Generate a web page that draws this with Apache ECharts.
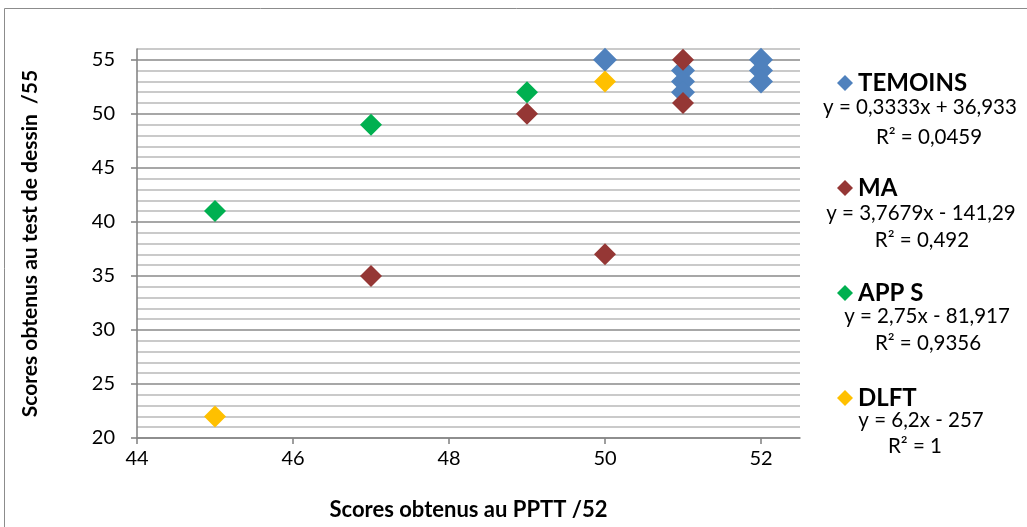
<!DOCTYPE html>
<html>
<head>
<meta charset="utf-8">
<script src="https://cdn.jsdelivr.net/npm/echarts@6/dist/echarts.min.js"></script>
<style>
html,body{margin:0;padding:0;background:#fff;}
#c{width:1027px;height:527px;}
</style>
</head>
<body>
<div id="c"></div>
<script>
const seriesNames = ['TEMOINS', 'MA', 'APP S', 'DLFT'];
const temoins = [[50,55],[51,54],[51,53],[51,52],[52,55],[52,54],[52,53]];
const ma = [[47,35],[49,50],[50,37],[51,55],[51,51]];
const apps = [[45,41],[47,49],[49,52]];
const dlft = [[45,22],[50,53]];
const equations = ['y = 0,3333x + 36,933', 'y = 3,7679x - 141,29', 'y = 2,75x - 81,917', 'y = 6,2x - 257'];
const r2 = ['R² = 0,0459', 'R² = 0,492', 'R² = 0,9356', 'R² = 1'];
const xTicks = [44,46,48,50,52];
const yTicks = [20,25,30,35,40,45,50,55];

const colors = ['#4f81bd', '#953735', '#00b050', '#ffc000'];
const font = 'Lato, "Liberation Sans", sans-serif';
const chart = echarts.init(document.getElementById('c'));

const eqPos = [[920,107,929,137],[921,213,922,240],[927,316,928,343],[921,420,915,446]];
const graphics = [{
  type:'rect', shape:{x:4.5,y:8.5,width:1040,height:540},
  style:{fill:null, stroke:'#8c8c8c', lineWidth:1}, silent:true
}];
equations.forEach((t,i)=>{
  graphics.push({type:'text', x:eqPos[i][0], y:eqPos[i][1], style:{text:t, fill:'#000', font:'20.5px '+font, textAlign:'center', textVerticalAlign:'middle'}});
  graphics.push({type:'text', x:eqPos[i][2], y:eqPos[i][3], style:{text:r2[i], fill:'#000', font:'20.5px '+font, textAlign:'center', textVerticalAlign:'middle'}});
});

const major = '#8a8a8a', minor = '#b8b8b8';
chart.setOption({
  animation:false,
  backgroundColor:'#fff',
  textStyle:{fontFamily:font},
  grid:{left:137, right:227, top:49, bottom:89},
  legend:{
    orient:'vertical', left:832, top:66, itemGap:81,
    icon:'diamond', itemWidth:16, itemHeight:16,
    textStyle:{fontSize:24, fontWeight:'bold', color:'#000', fontFamily:font},
    data:seriesNames
  },
  xAxis:{
    type:'value', min:44, max:52.5, interval:2,
    name:'Scores obtenus au PPTT /52', nameLocation:'middle', nameGap:61,
    nameTextStyle:{fontSize:22, fontWeight:'bold', color:'#000'},
    axisLine:{lineStyle:{color:'#868686', width:1.6}},
    axisTick:{show:true, length:6, customValues:xTicks, lineStyle:{color:'#868686', width:1.6}},
    axisLabel:{customValues:xTicks, fontSize:20, color:'#000', margin:11},
    splitLine:{show:false}
  },
  yAxis:[{
    type:'value', min:20, max:56, interval:1,
    name:'Scores obtenus au test de dessin  /55', nameLocation:'middle', nameGap:96,
    nameTextStyle:{fontSize:21, fontWeight:'bold', color:'#000'},
    axisLine:{show:true, lineStyle:{color:'#868686', width:1.6}},
    axisTick:{show:true, length:6, customValues:yTicks, lineStyle:{color:'#868686', width:1.6}},
    axisLabel:{customValues:yTicks, fontSize:20, color:'#000', margin:22},
    splitLine:{show:false},
    z:3
  },{
    type:'value', min:20, max:56, interval:1, position:'left',
    axisLine:{show:false}, axisTick:{show:false}, axisLabel:{show:false},
    splitLine:{show:true, lineStyle:{color:[major, minor, minor, minor, minor], width:1.6}}
  }],
  series:[
    {name:seriesNames[0], type:'scatter', symbol:'diamond', symbolSize:24, data:temoins, itemStyle:{color:colors[0], opacity:1}},
    {name:seriesNames[1], type:'scatter', symbol:'diamond', symbolSize:22, data:ma, itemStyle:{color:colors[1], opacity:1}},
    {name:seriesNames[2], type:'scatter', symbol:'diamond', symbolSize:22, data:apps, itemStyle:{color:colors[2], opacity:1}},
    {name:seriesNames[3], type:'scatter', symbol:'diamond', symbolSize:22, data:dlft, itemStyle:{color:colors[3], opacity:1}}
  ],
  graphic:graphics
});
</script>
</body>
</html>
